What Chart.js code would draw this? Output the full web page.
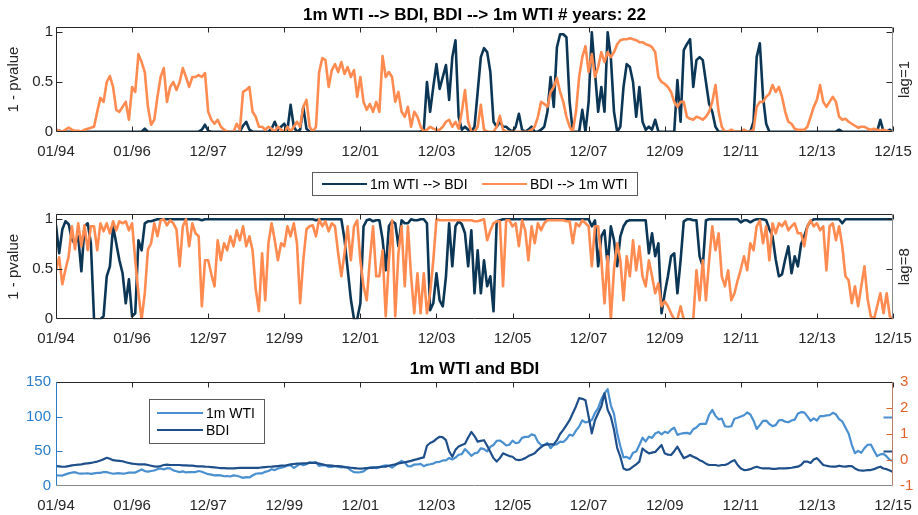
<!DOCTYPE html>
<html>
<head>
<meta charset="utf-8">
<script src="https://cdn.jsdelivr.net/npm/chart.js@4.4.1/dist/chart.umd.min.js"></script>
<style>
  html, body { margin: 0; padding: 0; background: #fff; }
  #wrap { position: relative; width: 918px; height: 515px; overflow: hidden; }
  canvas { position: absolute; left: 0; }
</style>
</head>
<body>
<div id="wrap">
  <canvas id="c1" width="918" height="165" style="top:0px"></canvas>
  <canvas id="c2" width="918" height="190" style="top:160px"></canvas>
  <canvas id="c3" width="918" height="170" style="top:345px"></canvas>
</div>
<script>
// x is months since 01/1994 (one value per month)
const tickMonths = [0, 24, 48, 72, 96, 120, 144, 168, 192, 216, 240, 264];
const tickLabels = ['01/94', '01/96', '12/97', '12/99', '12/01', '12/03', '12/05', '12/07', '12/09', '12/11', '12/13', '12/15'];
const pvalTicks = [0, 0.5, 1];
const priceTicks = [0, 50, 100, 150];
const rightTicks = [-1, 0, 1, 2, 3];

// lag = 1
const p1WtiToBdi = [
  0.02,0.01,0,0,0,0,0,0,0,0,0,0,
  0,0,0,0,0,0,0,0,0,0,0,0,
  0,0,0,0,0.03,0,0,0,0,0,0,0,
  0,0,0,0,0,0,0,0,0,0,0.02,0.07,
  0.01,0,0,0,0,0,0,0,0,0,0,0.06,
  0.1,0.02,0,0,0,0,0,0,0.03,0.1,0.02,0.05,
  0.08,0.02,0.27,0.05,0,0.02,0.25,0.03,0,0,0,0,
  0,0,0,0,0,0,0,0,0,0,0,0,
  0,0,0,0,0,0,0,0,0,0,0,0,
  0,0,0,0,0,0,0,0,0.02,0.5,0.2,0.45,
  0.68,0.43,0.55,0.67,0.32,0.75,0.92,0.15,0.02,0.05,0.02,0,
  0.05,0.4,0.75,0.84,0.8,0.6,0.1,0.05,0.1,0.05,0.05,0.02,
  0,0.05,0.18,0.02,0,0.02,0.05,0,0,0.02,0.05,0.2,
  0.55,0.25,0.85,0.98,0.98,0.95,0.3,0,0,0,0.22,0,
  0.3,1,0.6,0.2,0.45,0.2,1,0.75,0.2,0,0.05,0.45,
  0.68,0.65,0.5,0.15,0.45,0.1,0.02,0.05,0.02,0.12,0,0,
  0,0,0,0,0.52,0.1,0.82,0.88,0.93,0.45,0.72,0.75,
  0.72,0.5,0.28,0.2,0.05,0,0,0,0,0,0,0,
  0,0,0,0,0.1,0.75,0.89,0.35,0.08,0,0,0,
  0,0,0,0,0,0,0,0,0,0,0,0,
  0,0,0,0,0,0,0,0.02,0,0,0,0,
  0,0,0,0,0,0,0,0,0.12,0,0,0.02,
  0
];
const p1BdiToWti = [
  0.02,0.01,0,0.02,0.04,0.02,0.01,0.01,0,0.02,0.03,0.04,
  0.05,0.2,0.34,0.3,0.5,0.56,0.45,0.22,0.2,0.25,0.3,0.12,
  0.45,0.4,0.78,0.7,0.6,0.25,0.07,0.12,0.35,0.55,0.64,0.3,
  0.45,0.5,0.42,0.5,0.64,0.55,0.45,0.55,0.55,0.57,0.55,0.59,
  0.2,0.12,0.08,0.12,0.05,0.02,0,0,0,0.08,0.02,0.4,
  0.42,0.45,0.2,0.15,0.05,0.05,0.02,0.05,0.03,0,0.05,0.02,
  0,0.05,0,0.05,0.1,0.05,0.25,0.32,0.05,0,0.05,0.6,
  0.74,0.72,0.45,0.62,0.68,0.6,0.7,0.58,0.65,0.55,0.62,0.35,
  0.55,0.3,0.22,0.28,0.2,0.3,0.2,0.76,0.55,0.6,0.55,0.3,
  0.4,0.2,0.15,0.25,0.05,0.2,0.15,0.05,0,0.02,0.05,0.03,
  0.02,0.02,0.05,0.1,0.12,0.05,0.1,0.03,0.2,0.42,0.1,0,
  0,0.05,0.27,0.02,0,0,0,0.05,0.16,0.02,0,0,
  0,0,0,0,0,0,0.02,0.05,0.15,0.3,0.28,0.25,
  0.4,0.45,0.54,0.4,0.3,0.15,0.05,0,0.2,0.55,0.75,0.86,
  0.6,0.78,0.55,0.65,0.8,0.7,0.8,0.75,0.8,0.88,0.92,0.93,
  0.93,0.94,0.93,0.92,0.9,0.9,0.88,0.87,0.85,0.8,0.55,0.5,
  0.48,0.45,0.4,0.3,0.25,0.3,0.3,0.15,0.13,0.12,0.15,0.14,
  0.12,0.15,0.2,0.3,0.47,0.2,0.05,0,0,0.02,0,0,
  0,0.02,0,0,0.02,0.25,0.3,0.3,0.35,0.38,0.47,0.4,
  0.45,0.35,0.2,0.1,0.08,0.03,0.02,0.02,0.02,0.05,0.15,0.25,
  0.32,0.47,0.3,0.25,0.3,0.35,0.3,0.15,0.12,0.13,0.1,0.08,
  0.06,0.04,0.05,0.05,0.03,0.02,0.03,0.02,0.01,0.02,0.01,0,
  0
];

// lag = 8
const p2WtiToBdi = [
  0.94,0.66,0.9,0.98,0.95,0.8,0.75,0.83,0.48,0.93,0.96,0.76,
  0,0,0,0.03,0.43,0.53,0.93,0.76,0.59,0.46,0.16,0.4,
  0.03,0.06,0.79,0.69,0.96,0.98,0.98,0.99,1,1,1,1,
  1,1,1,1,1,1,1,1,1,1,0.99,1,
  1,1,1,1,1,1,1,1,1,1,1,1,
  1,1,1,1,1,1,1,1,1,1,1,1,
  1,1,1,1,1,1,1,1,1,1,0.99,1,
  1,1,1,1,1,1,1,0.8,0.5,0.2,0,0,
  0.16,0.93,0.99,1,0.98,0.99,0.99,0.8,0.49,0.93,0.98,0.96,
  0.73,0.99,0.96,0.96,1,0.99,0.99,1,1,0.96,0.09,0.16,
  0.46,0.19,0.13,0.43,0.96,0.53,0.93,0.98,0.95,0.86,0.53,0.89,
  0.26,0.69,0.26,0.59,0.33,0.43,0.08,0.98,0.99,1,1,1,
  1,1,1,1,1,1,1,1,1,1,1,1,
  1,1,1,1,1,1,1,1,1,1,1,1,
  1,0.93,0.99,0.53,0.83,0.89,0.53,0.93,0.79,0.53,0.83,0.93,
  0.98,0.99,0.99,0.99,0.99,0.99,0.99,0.66,0.86,0.63,0.76,0.06,
  0.26,0.43,0.63,0.66,0.26,0.59,0.98,1,1,0.99,0.99,0.63,
  0.53,0.99,1,1,1,1,1,1,1,1,1,1,
  0.97,0.99,0.99,0.97,0.99,1,1,1,0.99,0.9,0.83,0.6,
  0.43,0.45,0.6,0.73,0.46,0.63,0.53,0.75,0.83,0.93,0.98,1,
  1,1,1,1,1,1,1,1,0.96,1,1,1,
  1,1,1,1,1,1,1,1,1,1,1,1,
  1
];
const p2BdiToWti = [
  0.49,0.62,0.35,0.5,0.63,0.93,0.7,0.96,0.73,0.94,0.69,0.93,
  0.93,0.69,0.96,0.88,0.96,0.86,0.98,0.89,0.98,0.96,0.98,0.89,
  0.96,0.59,0.26,0,0.26,0.7,0.76,0.96,0.83,0.99,1,0.94,
  0.99,0.96,0.9,0.53,0.93,1,0.73,0.96,0.86,0.83,0.13,0.59,
  0.59,0.45,0.33,0.79,0.59,0.76,0.69,0.83,0.73,0.89,0.79,0.93,
  0.73,0.83,0.69,0.3,0.08,0.66,0.19,0.76,0.96,0.79,0.59,0.76,
  0.73,0.93,0.83,0.96,0.76,0.16,0.59,0.9,0.93,0.94,0.83,1,
  0.93,0.98,0.88,0.96,0.93,0.66,0.43,0.66,0.93,0.59,0.93,0.99,
  0.59,0.33,0.19,0.6,0.93,0.43,0.43,0.69,0.03,0.59,0.99,0.03,
  0.66,0.93,0.33,0.93,0.43,0.06,0.46,0.06,0.46,0.06,0.26,0.59,
  1,0.99,0.99,0.99,0.99,0.99,0.99,0.99,0.99,0.99,0.99,0.99,
  0.98,0.98,0.99,1,0.79,0.89,0.96,0.98,0.98,0.33,0.99,0.99,
  0.93,0.96,0.73,0.99,0.89,0.59,0.93,0.76,0.96,0.89,0.96,0.99,
  0.99,0.99,0.99,0.99,0.99,0.98,0.98,0.76,0.96,0.93,0.99,0.96,
  0.93,0.53,0.93,0.93,0.6,0.16,0.63,0,0.5,0.76,0.59,0.19,
  0.63,0.43,0.79,0.49,0.73,0.43,0.33,0.59,0.43,0.26,0.36,0.13,
  0.18,0.13,0.06,0,0,0.13,0,0,0,0,0.49,0.19,
  0.59,0.19,0.59,0.93,0.69,0.86,0.43,0.33,0.49,0.19,0.26,0.39,
  0.5,0.63,0.49,0.76,0.69,0.93,0.99,0.76,0.93,0.59,0.96,0.86,
  0.96,0.93,0.98,0.89,0.93,0.96,0.86,0.86,0.73,0.93,0.99,0.93,
  0.96,0.89,0.93,0.49,0.93,0.96,0.79,0.93,0.73,0.43,0.39,0.16,
  0.33,0.13,0.33,0.53,0.2,0.03,0,0.13,0.26,0.06,0.26,0.03,
  0
];

// levels (left axis units)
const wtiLevel = [
  15.0,14.8,14.7,16.4,17.9,19.1,19.6,18.0,17.5,17.7,18.1,17.2,
  18.0,18.5,18.6,19.9,19.7,18.4,17.3,17.9,18.1,17.4,18.0,19.0,
  18.9,19.1,21.4,23.6,21.2,20.4,21.3,22.0,24.0,24.9,23.7,25.4,
  25.2,22.2,20.9,19.7,20.8,19.2,19.6,19.9,19.8,21.3,20.2,18.3,
  16.7,16.1,15.0,15.4,14.9,13.7,14.1,13.4,15.0,14.4,12.9,11.3,
  12.5,12.0,14.7,17.3,17.8,17.9,20.1,21.3,23.9,22.6,25.0,26.1,
  27.2,29.4,29.9,25.7,28.8,31.8,29.7,31.3,33.9,33.1,34.4,28.5,
  29.6,29.6,27.2,27.4,28.6,27.6,26.4,27.4,26.2,22.2,19.6,19.3,
  19.7,20.7,24.4,26.3,27.0,25.5,26.9,28.4,29.7,28.9,26.3,29.4,
  32.9,35.9,33.6,28.3,28.1,30.7,30.8,31.6,28.3,30.3,31.1,32.1,
  34.3,34.7,36.7,36.7,40.3,38.0,40.7,44.9,45.9,53.1,48.5,43.3,
  46.8,48.0,54.3,53.0,49.8,56.4,59.0,65.0,65.6,62.4,58.3,59.4,
  65.5,61.6,62.7,69.4,70.8,70.9,74.4,73.0,63.8,58.9,59.1,62.0,
  54.5,59.3,60.4,63.9,63.4,67.5,74.1,72.4,79.9,85.8,94.8,91.7,
  93.0,95.4,105.4,112.6,125.4,133.9,140.0,116.7,104.1,76.6,57.3,41.1,
  41.7,39.1,47.9,49.7,59.0,69.6,64.1,71.1,69.4,75.7,78.0,74.5,
  78.3,76.4,81.2,84.3,73.7,75.3,76.3,76.6,75.2,81.9,84.3,89.2,
  89.6,89.6,102.9,110.0,101.3,96.3,97.3,86.3,85.5,86.3,97.2,98.6,
  100.3,102.2,106.2,103.3,94.7,82.3,87.9,94.1,94.5,89.5,86.5,87.9,
  94.8,95.3,92.9,92.0,94.5,95.8,104.6,106.6,106.3,100.5,93.9,97.6,
  94.6,100.8,100.8,102.1,102.2,105.8,103.6,96.5,93.2,84.4,75.8,59.3,
  47.2,50.6,47.8,54.5,59.3,59.8,51.0,42.9,45.5,46.2,42.4,37.2,
  36
];
const bdiLevel = [
  28.5,28,27.5,27.6,28.5,29.5,30,30.5,31,32,32.5,33,
  34,35,36.5,38.5,40.5,39,37,36.5,36,35.5,34,33,
  32,31.5,31,31,31,30,29,28,27.6,28.5,30,30.5,
  30,30,30,30,29.5,29.5,29,29,28.5,28,28,27.6,
  27.5,27,26.5,26,25.5,25.5,25,25,25,25.5,26,26,
  26,26,26,26,26,26.5,27,27.5,27.6,28,28.5,29,
  29,30,31,31.5,32,32,32.5,32.4,33,33,33,32,
  31,30,29.5,29,28.5,28.5,28,27,26.5,26,25.5,25,
  24.7,25,25.5,26,26,26.5,27,27.5,27.6,29,30,31,
  32.4,33,34,35,36,37.5,38.5,40,41,58,62,64,
  68,71,70,66,50,42,52,57,59,61,70,78,
  72,64,65,66,58,49,40,35,40,47,45,43,
  42,38,37,38,40,43,45,47,52,56,59,60,
  60,60,66,75,81,88,95,105,115,127,126,124,
  100,76,95,105,115,134,110,100,81,55,42,25,
  22.7,24,27.6,31,35,54,50,47,48,49,54,59,
  47,45,44.5,50,56.6,48,40,42,44.5,42,40,37,
  35,32,30,30,30,29,30,30,32,35,37,30,
  25,22.7,23,24,26,27.6,26,25,25,25,24.5,24.5,
  25,25,25,25.5,26,27,27.6,30,35,35,33,38,
  40,35,30,29,28,27.6,27.6,29,28,27.6,28.5,28.5,
  25,22.7,22,22,22.7,22.7,24,26,27.6,25,24,22,
  20
];
// small end markers on the right axis (right axis units)
const rightMarks = [1.67, 0.34];

const FONT = "'Liberation Sans', Arial, sans-serif";
const DARK = '#0c3656';
const ORANGE = '#ff8b50';
const LIGHTBLUE = '#4a90d0';
const NAVY = '#1f4f8b';
const AXIS = '#262626';

function toXY(arr) {
  return arr.map((v, i) => ({ x: i, y: v }));
}

function xAxis(h, pad) {
  return {
    type: 'linear', min: 0, max: 264,
    grid: { display: false, drawTicks: false }, border: { display: false },
    afterBuildTicks: s => { s.ticks = tickMonths.map(v => ({ value: v })); },
    afterFit: s => { s.height = h; s.paddingLeft = 0; s.paddingRight = 0; },
    ticks: {
      autoSkip: false, maxRotation: 0, padding: pad, color: AXIS,
      font: { family: FONT, size: 15 },
      callback: v => tickLabels[tickMonths.indexOf(v)]
    }
  };
}

function yAxis(min, max, vals, w, color, pos, pad) {
  return {
    type: 'linear', min: min, max: max, position: pos,
    grid: { display: false, drawTicks: false }, border: { display: false },
    afterBuildTicks: s => { s.ticks = vals.map(v => ({ value: v })); },
    afterFit: s => { s.width = w; s.paddingTop = 0; s.paddingBottom = 0; },
    ticks: {
      padding: pad, color: color, font: { family: FONT, size: 15 },
      callback: v => String(v)
    }
  };
}

// box, inward ticks and all the texts around an axes
function decor(o) {
  return {
    id: 'decor',
    afterDraw(chart) {
      const ctx = chart.ctx, a = chart.chartArea;
      const sx = chart.scales.x, sy = chart.scales.y;
      const L = Math.round(a.left) + 0.5, R = Math.round(a.right) - 0.5;
      const T = Math.round(a.top) + 0.5, B = Math.round(a.bottom) - 0.5;
      const line = (x1, y1, x2, y2, c) => {
        ctx.strokeStyle = c; ctx.beginPath(); ctx.moveTo(x1, y1); ctx.lineTo(x2, y2); ctx.stroke();
      };
      ctx.save();
      ctx.lineWidth = 1;
      tickMonths.forEach(m => {
        const px = Math.round(sx.getPixelForValue(m)) + 0.5;
        line(px, T, px, T + 5, o.topColor);
        if (o.bottomTicks) line(px, B, px, B - 5, o.bottomColor);
      });
      o.leftTicks.forEach(v => {
        const py = Math.round(sy.getPixelForValue(v)) + 0.5;
        line(L, py, L + 6, py, o.leftColor);
      });
      const sr = o.rightScale ? chart.scales[o.rightScale] : sy;
      o.rightTicks.forEach(v => {
        const py = Math.round(sr.getPixelForValue(v)) + 0.5;
        line(R, py, R - 6, py, o.rightTickColor);
      });
      (o.markers || []).forEach(mk => {
        const py = Math.round(sr.getPixelForValue(mk.v)) + 0.5;
        ctx.lineWidth = 2;
        line(R, py, R - 9, py, mk.color);
        ctx.lineWidth = 1;
      });
      line(L, T, R, T, o.topColor);
      line(L, B, R, B, o.bottomColor);
      line(L, T, L, B, o.leftColor);
      line(R, T, R, B, o.rightColor);

      ctx.textAlign = 'center';
      ctx.textBaseline = 'middle';
      if (o.title) {
        ctx.fillStyle = '#000';
        ctx.font = 'bold 17px ' + FONT;
        ctx.fillText(o.title, (a.left + a.right) / 2, o.titleY);
      }
      const mid = (a.top + a.bottom) / 2;
      ctx.font = '15px ' + FONT;
      ctx.fillStyle = AXIS;
      if (o.yTitle) {
        ctx.save(); ctx.translate(14, mid); ctx.rotate(-Math.PI / 2);
        ctx.fillText(o.yTitle, 0, 0); ctx.restore();
      }
      if (o.rightLabel) {
        ctx.save(); ctx.translate(905, mid); ctx.rotate(-Math.PI / 2);
        ctx.fillText(o.rightLabel, 0, 0); ctx.restore();
      }
      if (o.legend) {
        const g = o.legend;
        ctx.fillStyle = '#fff';
        ctx.fillRect(g.x, g.y, g.w, g.h);
        ctx.strokeStyle = '#5a5a5a';
        ctx.strokeRect(g.x + 0.5, g.y + 0.5, g.w, g.h);
        ctx.font = '14px ' + FONT;
        ctx.textAlign = 'left';
        g.items.forEach(it => {
          ctx.strokeStyle = it.color; ctx.lineWidth = g.lw;
          ctx.beginPath(); ctx.moveTo(it.x1, it.y); ctx.lineTo(it.x2, it.y); ctx.stroke();
          ctx.fillStyle = '#000';
          ctx.fillText(it.text, it.tx, it.y + 1);
        });
      }
      ctx.restore();
    }
  };
}

function lineSet(label, arr, color, width, order) {
  return {
    label: label, data: toXY(arr), borderColor: color, borderWidth: width,
    pointRadius: 0, tension: 0, fill: false, order: order,
    borderJoinStyle: 'round', borderCapStyle: 'round', yAxisID: 'y'
  };
}

const common = {
  responsive: false, animation: false, events: [],
  plugins: { legend: { display: false }, tooltip: { enabled: false } }
};

// panel 1 : lag 1
new Chart(document.getElementById('c1'), {
  type: 'line',
  data: {
    datasets: [
      lineSet('1m WTI --> BDI', p1WtiToBdi, DARK, 2.6, 2),
      lineSet('BDI --> 1m WTI', p1BdiToWti, ORANGE, 2.6, 1)
    ]
  },
  options: Object.assign({}, common, {
    layout: { padding: { top: 27.3, right: 25, left: 0, bottom: 0 } },
    scales: {
      x: xAxis(33.3, 11),
      y: yAxis(0, 1.05, pvalTicks, 56, AXIS, 'left', 3)
    }
  }),
  plugins: [decor({
    title: '1m WTI --> BDI, BDI --> 1m WTI # years: 22', titleY: 15,
    yTitle: '1 - pvalue', rightLabel: 'lag=1',
    topColor: AXIS, bottomColor: AXIS, leftColor: AXIS, rightColor: '#8c8c8c',
    bottomTicks: true, leftTicks: [0.5, 1], rightTicks: [0.5, 1], rightTickColor: AXIS
  })]
});

// panel 2 : lag 8
new Chart(document.getElementById('c2'), {
  type: 'line',
  data: {
    datasets: [
      lineSet('1m WTI --> BDI', p2WtiToBdi, DARK, 2.6, 2),
      lineSet('BDI --> 1m WTI', p2BdiToWti, ORANGE, 2.6, 1)
    ]
  },
  options: Object.assign({}, common, {
    layout: { padding: { top: 54.3, right: 25, left: 0, bottom: 0 } },
    scales: {
      x: xAxis(30.7, 11),
      y: yAxis(0, 1.05, pvalTicks, 56, AXIS, 'left', 3)
    }
  }),
  plugins: [decor({
    yTitle: '1 - pvalue', rightLabel: 'lag=8',
    topColor: AXIS, bottomColor: AXIS, leftColor: AXIS, rightColor: '#8c8c8c',
    bottomTicks: true, leftTicks: [0.5, 1], rightTicks: [0.5, 1], rightTickColor: AXIS,
    legend: {
      x: 312, y: 12, w: 325, h: 23, lw: 2.2,
      items: [
        { text: '1m WTI --> BDI', color: DARK, x1: 322, x2: 367, tx: 370, y: 24 },
        { text: 'BDI --> 1m WTI', color: ORANGE, x1: 482, x2: 527, tx: 530, y: 24 }
      ]
    }
  })]
});

// panel 3 : levels
new Chart(document.getElementById('c3'), {
  type: 'line',
  data: {
    datasets: [
      lineSet('1m WTI', wtiLevel, LIGHTBLUE, 2.2, 2),
      lineSet('BDI', bdiLevel, NAVY, 2.2, 1)
    ]
  },
  options: Object.assign({}, common, {
    layout: { padding: { top: 37.3, right: 0, left: 0, bottom: 0 } },
    scales: {
      x: xAxis(29.3, 11),
      y: yAxis(0, 150, priceTicks, 56, '#2a7cc7', 'left', 5),
      y2: yAxis(-1, 3, rightTicks, 25, '#e2622b', 'right', 7)
    }
  }),
  plugins: [decor({
    title: '1m WTI and BDI', titleY: 24,
    topColor: AXIS, bottomColor: '#8a8a8a', leftColor: '#2a7cc7', rightColor: '#b5806d',
    bottomTicks: false, leftTicks: [50, 100], rightTicks: [0, 1, 2, 3], rightTickColor: '#e2622b',
    rightScale: 'y2',
    markers: [{ v: rightMarks[0], color: LIGHTBLUE }, { v: rightMarks[1], color: NAVY }],
    legend: {
      x: 149, y: 54, w: 115, h: 44, lw: 2.2,
      items: [
        { text: '1m WTI', color: LIGHTBLUE, x1: 157, x2: 203, tx: 206, y: 68 },
        { text: 'BDI', color: NAVY, x1: 157, x2: 203, tx: 206, y: 85 }
      ]
    }
  })]
});
</script>
</body>
</html>
